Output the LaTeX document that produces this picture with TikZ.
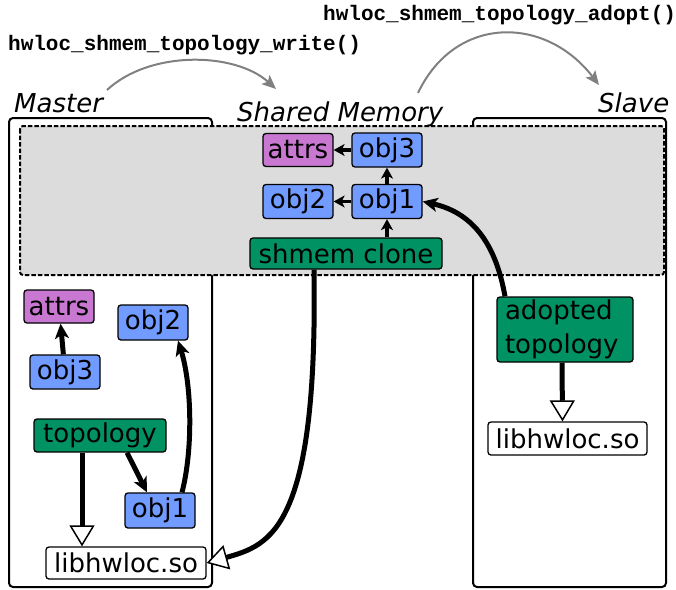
\documentclass[tikz,border=0pt]{standalone}
\usepackage{fontspec}
\setmainfont{DejaVu Sans}
\newfontfamily\codefont{Liberation Mono}
\usetikzlibrary{arrows.meta}
\definecolor{objblue}{RGB}{114,155,255}
\definecolor{attrpurple}{RGB}{200,120,208}
\definecolor{topogreen}{RGB}{0,146,98}
\definecolor{smgray}{RGB}{220,220,220}
\begin{document}
\begin{tikzpicture}[x=1pt,y=-1pt,
  box/.style={draw=black,line width=1.3pt,rounded corners=3pt,inner sep=0pt,font=\fontsize{26}{30}\selectfont},
  objn/.style={box,fill=objblue,minimum width=70pt,minimum height=34pt},
  attrn/.style={box,fill=attrpurple,minimum width=70pt,minimum height=33pt},
  topon/.style={box,fill=topogreen},
  libn/.style={box,fill=white,minimum width=160pt,minimum height=32pt},
  region/.style={draw=black,line width=2pt,rounded corners=4pt},
  ptr/.style={line width=3.5pt,-{Stealth[length=11pt,width=12pt,inset=3pt]}},
  bigptr/.style={line width=5pt,-{Stealth[length=15pt,width=14pt,inset=4pt]}},
  link/.style={line width=5pt,-{Triangle[open,fill=white,length=21pt,width=25pt,line width=1.5pt]}},
  call/.style={draw=gray,line width=2pt,-{Stealth[length=14pt,width=12pt,inset=3pt]}},
  title/.style={font=\fontsize{26}{30}\selectfont\itshape,inner sep=0pt},
  code/.style={font=\codefont\bfseries\fontsize{21}{24}\selectfont,inner sep=0pt}]
\useasboundingbox (0,0) rectangle (676,589);
% regions
\draw[region] (9,118) rectangle (212,587);
\draw[region] (473,118) rectangle (666,587);
\draw[fill=smgray,line width=2pt,dash pattern=on 4.5pt off 2pt,rounded corners=3pt] (20,126) rectangle (664,275);
% titles
\node[title,anchor=base west] (master) at (14,112) {Master};
\node[title,anchor=base west] (shm) at (237,121) {Shared Memory};
\node[title,anchor=base west] (slave) at (598,112) {Slave};
\node[code,anchor=base west] (write) at (8,50) {hwloc\_shmem\_topology\_write()};
\node[code,anchor=base west] (adopt) at (323,20) {hwloc\_shmem\_topology\_adopt()};
% shared memory nodes
\node[attrn] (sattrs) at (298,150) {attrs};
\node[objn] (sobj3) at (387,150) {obj3};
\node[objn] (sobj2) at (298,201.5) {obj2};
\node[objn] (sobj1) at (387,201.5) {obj1};
\node[topon,minimum width=192pt,minimum height=31pt] (clone) at (346,253.5) {shmem clone};
% master nodes
\node[attrn] (mattrs) at (59,306.5) {attrs};
\node[objn,minimum height=35pt] (mobj2) at (153,322.5) {obj2};
\node[objn] (mobj3) at (65,372) {obj3};
\node[topon,minimum width=132pt,minimum height=33pt] (topo) at (100,435.5) {topology};
\node[objn,minimum height=35pt] (mobj1) at (160,510.5) {obj1};
\node[libn] (mlib) at (126,563) {libhwloc.so};
% slave nodes
\node[topon,minimum width=136pt,minimum height=65pt,align=left,text width=120pt,font=\fontsize{26}{34}\selectfont] (adopted) at (565,329.5) {adopted\\topology};
\node[libn,minimum width=159pt,minimum height=33pt] (slib) at (567.5,438.5) {libhwloc.so};
% call arrows
\coordinate (w1) at (107,90);
\coordinate (w2) at (276,89);
\coordinate (a1) at (418,93);
\coordinate (a2) at (599,85);
\draw[call] (w1) .. controls (150,50) and (235,52) .. (w2);
\draw[call] (a1) .. controls (455,15) and (545,15) .. (a2);
% shared memory pointers
\draw[ptr] (sobj3) -- (sattrs);
\draw[ptr] (sobj1) -- (sobj2);
\draw[ptr] (sobj1) -- (sobj3);
\draw[ptr] (clone.north -| sobj1) -- (sobj1);
% master pointers
\draw[bigptr] (mobj3) -- (mattrs);
\draw[bigptr] ([xshift=27pt]topo.south) -- ([xshift=-13pt]mobj1.north);
\draw[bigptr] ([xshift=22pt]mobj1.north) .. controls (193,450) and (192,385) .. ([xshift=25pt]mobj2.south);
\draw[link] ([xshift=-18pt]topo.south) -- ([xshift=-44pt]mlib.north);
% cross pointers
\draw[link] ([xshift=-32pt]clone.south) .. controls (318,530) and (270,545) .. (mlib.east);
\draw[bigptr] ([xshift=-60pt]adopted.north) .. controls (495,240) and (470,212) .. (sobj1.east);
\draw[link] ([xshift=-3pt]adopted.south) -- ([xshift=-5pt]slib.north);
\end{tikzpicture}
\end{document}
